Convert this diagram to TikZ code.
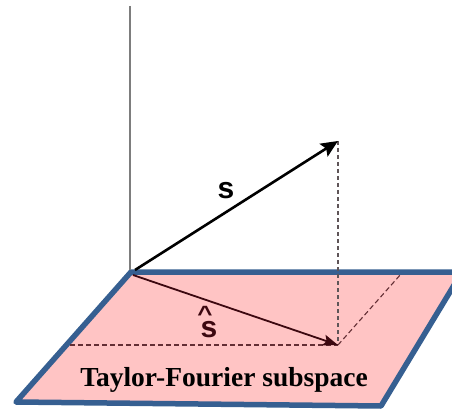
\documentclass[tikz,border=0pt]{standalone}
\usepackage{fontspec}
\setmainfont{Liberation Serif}
\setsansfont{Liberation Sans}
\usetikzlibrary{arrows.meta}
\definecolor{planefill}{RGB}{255,196,196}
\definecolor{planeedge}{RGB}{54,95,145}
\definecolor{axisgray}{RGB}{125,125,125}
\definecolor{projdark}{RGB}{60,8,16}
\definecolor{dashgray}{RGB}{95,85,88}
\newcommand{\hatmark}{\raisebox{-3.3pt}[12pt][0pt]{\scalebox{1}[0.85]{\string^}}}
\begin{document}
\begin{tikzpicture}[
    x=1pt,y=-1pt,
    plane/.style={draw=planeedge,line width=5.5pt,fill=planefill,line join=round},
    axisline/.style={axisgray,line width=1.4pt},
    vec/.style={-{Stealth[length=17pt,width=15pt,inset=3pt]},black,line width=2.6pt},
    projvec/.style={-{Stealth[length=15pt,width=11pt,inset=3pt]},projdark,line width=1.8pt},
    drop/.style={dashgray,line width=1.3pt,dash pattern=on 4pt off 3pt},
    guide/.style={projdark!80!planefill,line width=1.1pt,dash pattern=on 5pt off 3pt},
    veclabel/.style={font=\sffamily\bfseries\fontsize{30}{30}\selectfont,inner sep=0pt}
  ]
    \useasboundingbox (0,0) rectangle (452,414);
    \clip (0,0) rectangle (452,414);
    \coordinate (top)    at (130,6);
    \coordinate (origin) at (131,272);
    \coordinate (tip)    at (338,141);
    \coordinate (foot)   at (338,345);
    \coordinate (left)   at (70,345);
    \coordinate (back)   at (401,274);
    \draw[plane] (origin) -- (462,272) -- (381,406) -- (16,402) -- cycle;
    \draw[axisline] (top) -- (130,270);
    \draw[drop] (tip) -- (foot);
    \draw[guide] (left) -- (foot);
    \draw[guide] (foot) -- (back);
    \draw[vec] (135,270) -- (tip);
    \draw[projvec] (133,275) -- (foot);
    \node[veclabel] (s) at (226,191) {s};
    \node[veclabel,projdark] (shat) at (209,330) {s};
    \node[font=\sffamily\bfseries\fontsize{26}{26}\selectfont,projdark,inner sep=0pt] (hat) at (205,312) {\hatmark};
    \node[font=\bfseries\fontsize{27.5}{27.5}\selectfont,inner sep=0pt] (name) at (224,380) {Taylor-Fourier subspace};
  \end{tikzpicture}
\end{document}
